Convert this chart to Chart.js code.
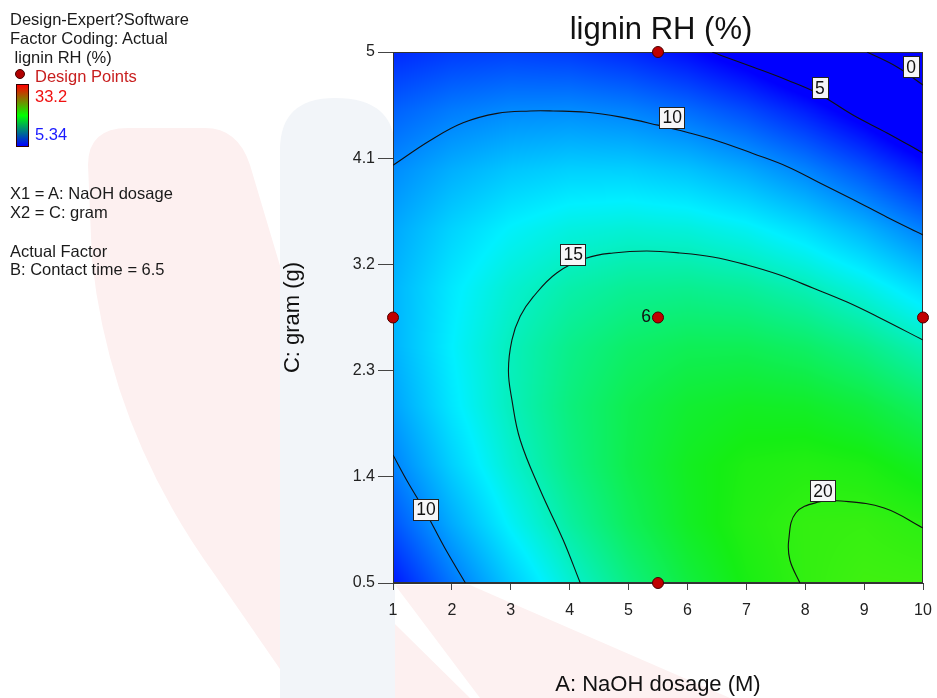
<!DOCTYPE html>
<html>
<head>
<meta charset="utf-8">
<script src="https://cdn.jsdelivr.net/npm/chart.js@4.4.1/dist/chart.umd.min.js"></script>
<style>
html, body { margin: 0; padding: 0; background: #fff; }
#wrap { position: relative; width: 937px; height: 698px; overflow: hidden; font-family: "Liberation Sans", Arial, sans-serif; }
#bg { position: absolute; left: 0; top: 0; }
#c { position: absolute; left: 0; top: 0; }
.t { position: absolute; white-space: pre; font-size: 16.5px; line-height: 17px; color: #1a1a1a; }
#bar { position: absolute; left: 16px; top: 84px; width: 11px; height: 61px; border: 1px solid #300; background: linear-gradient(to bottom, #f00, #0f0, #00f); }
#dot { position: absolute; left: 15px; top: 69px; width: 8px; height: 8px; border-radius: 50%; background: #b00000; border: 1px solid #400; }
</style>
</head>
<body>
<div id="wrap">
  <svg id="bg" width="937" height="698">
    <path d="M88 165 Q88 128 128 128 L205 128 Q238 128 250 165 L320 400 L330 560 L470 698 L300 698 L215 575 Q110 430 92 260 Z" fill="#fdf0f0"/>
    <path d="M280 150 Q280 98 335 98 Q395 98 395 150 L395 698 L280 698 Z" fill="#f2f5f9"/>
    <path d="M395 585 L470 585 L730 698 L480 698 Z" fill="#fdf1f1"/>
  </svg>
  <canvas id="c" width="937" height="698"></canvas>
  <div class="t" style="left:10px;top:11px">Design-Expert?Software</div>
  <div class="t" style="left:10px;top:30px">Factor Coding: Actual</div>
  <div class="t" style="left:10px;top:49px"> lignin RH (%)</div>
  <div id="dot"></div>
  <div class="t" style="left:35px;top:68px;color:#c81e1e">Design Points</div>
  <div id="bar"></div>
  <div class="t" style="left:35px;top:88px;color:#f01010">33.2</div>
  <div class="t" style="left:35px;top:126px;color:#1a1aff">5.34</div>
  <div class="t" style="left:10px;top:185px">X1 = A: NaOH dosage</div>
  <div class="t" style="left:10px;top:204px">X2 = C: gram</div>
  <div class="t" style="left:10px;top:243px">Actual Factor</div>
  <div class="t" style="left:10px;top:261px">B: Contact time = 6.5</div>
</div>
<script>
// axes
const xTicks = [1, 2, 3, 4, 5, 6, 7, 8, 9, 10];
const yTicks = [0.5, 1.4, 2.3, 3.2, 4.1, 5];

// response surface (rows = gram, cols = NaOH dosage)
const gridX = [1, 2, 3, 4, 5, 6, 7, 8, 9, 10];
const gridY = [0.5, 1, 1.5, 2, 2.5, 3, 3.5, 4, 4.5, 5];
const gridZ = [
  [6.14, 9.37, 12.19, 14.61, 16.61, 18.21, 19.40, 20.17, 20.54, 20.50],
  [8.21, 11.15, 13.68, 15.81, 17.52, 18.82, 19.72, 20.20, 20.28, 19.95],
  [9.78, 12.43, 14.67, 16.50, 17.92, 18.93, 19.54, 19.73, 19.52, 18.89],
  [10.85, 13.21, 15.15, 16.69, 17.82, 18.54, 18.86, 18.76, 18.25, 17.34],
  [11.42, 13.48, 15.14, 16.38, 17.22, 17.65, 17.67, 17.28, 16.48, 15.28],
  [11.48, 13.25, 14.62, 15.57, 16.12, 16.25, 15.98, 15.30, 14.21, 12.72],
  [11.04, 12.52, 13.59, 14.26, 14.51, 14.36, 13.80, 12.82, 11.44, 9.65],
  [10.10, 11.28, 12.07, 12.44, 12.40, 11.96, 11.10, 9.84, 8.16, 6.08],
  [8.65, 9.55, 10.04, 10.12, 9.79, 9.05, 7.91, 6.35, 4.39, 2.01],
  [6.70, 7.31, 7.51, 7.30, 6.68, 5.65, 4.21, 2.36, 0.11, -2.56]
];
const zStops = [5.34, 13.5, 19.27, 26.24, 33.2];
const zColors = [[0, 0, 255], [0, 240, 255], [20, 238, 20], [255, 255, 0], [255, 0, 0]];

// contour lines
const contour0 = [[9.05, 5], [9.56, 4.873], [10, 4.72]];
const contour5 = [[6.42, 5], [6.55, 4.975], [7.11, 4.873], [7.69, 4.763], [8.20, 4.653], [8.81, 4.466], [9.39, 4.314], [10, 4.144]];
const contour10Top = [[1, 4.04], [1.63, 4.25], [2.19, 4.40], [2.77, 4.48], [3.33, 4.50], [3.72, 4.50], [4.29, 4.49], [4.85, 4.45], [5.50, 4.38], [5.99, 4.32], [6.55, 4.24], [7.11, 4.14], [7.69, 4.03], [8.25, 3.89], [8.81, 3.75], [9.39, 3.60], [10, 3.45]];
const contour10Low = [[1, 1.585], [1.25, 1.356], [1.55, 1.104], [1.88, 0.796], [2.23, 0.5]];
const contour15 = [[4.18, 0.5], [3.89, 0.864], [3.50, 1.288], [3.16, 1.712], [3.02, 2.05], [2.96, 2.30], [3.02, 2.56], [3.16, 2.76], [3.38, 2.924], [3.78, 3.127], [4.29, 3.254], [4.74, 3.297], [5.31, 3.313], [5.87, 3.297], [6.43, 3.263], [7.01, 3.195], [7.57, 3.110], [8.13, 3.0], [8.71, 2.881], [9.27, 2.746], [10, 2.559]];
const contour20 = [[7.91, 0.5], [7.74, 0.695], [7.72, 0.864], [7.84, 1.093], [8.23, 1.186], [8.61, 1.195], [9.34, 1.135], [10, 0.966]];

const labelX = [9.80, 8.25, 5.74, 4.06, 1.56, 8.30];
const labelY = [4.873, 4.695, 4.449, 3.288, 1.127, 1.28];
const labelText = ['0', '5', '10', '15', '10', '20'];

// design points
const designX = [5.5, 1, 5.5, 10, 5.5];
const designY = [5, 2.75, 2.75, 2.75, 0.5];
const designCount = ['', '', '6', '', ''];

const FONT = '"Liberation Sans", Arial, sans-serif';

function sampleGrid(xv, yv) {
  let i = 0, j = 0;
  while (i < gridX.length - 2 && xv > gridX[i + 1]) i++;
  while (j < gridY.length - 2 && yv > gridY[j + 1]) j++;
  const tx = Math.min(1, Math.max(0, (xv - gridX[i]) / (gridX[i + 1] - gridX[i])));
  const ty = Math.min(1, Math.max(0, (yv - gridY[j]) / (gridY[j + 1] - gridY[j])));
  const a = gridZ[j][i], b = gridZ[j][i + 1], c = gridZ[j + 1][i], d = gridZ[j + 1][i + 1];
  return (a * (1 - tx) + b * tx) * (1 - ty) + (c * (1 - tx) + d * tx) * ty;
}

function colorFor(z) {
  if (z <= zStops[0]) return zColors[0];
  for (let k = 1; k < zStops.length; k++) {
    if (z <= zStops[k]) {
      const t = (z - zStops[k - 1]) / (zStops[k] - zStops[k - 1]);
      const c0 = zColors[k - 1], c1 = zColors[k];
      return [c0[0] + (c1[0] - c0[0]) * t, c0[1] + (c1[1] - c0[1]) * t, c0[2] + (c1[2] - c0[2]) * t];
    }
  }
  return zColors[zColors.length - 1];
}

const surface = {
  id: 'surface',
  beforeDatasetsDraw(chart) {
    const { ctx, chartArea: a, scales: { x, y } } = chart;
    const w = Math.round(a.right - a.left), h = Math.round(a.bottom - a.top);
    const img = ctx.createImageData(w, h);
    for (let j = 0; j < h; j++) {
      const yv = y.getValueForPixel(a.top + j + 0.5);
      for (let i = 0; i < w; i++) {
        const c = colorFor(sampleGrid(x.getValueForPixel(a.left + i + 0.5), yv));
        const k = (j * w + i) * 4;
        img.data[k] = c[0]; img.data[k + 1] = c[1]; img.data[k + 2] = c[2]; img.data[k + 3] = 255;
      }
    }
    ctx.putImageData(img, Math.round(a.left), Math.round(a.top));
    ctx.save();
    ctx.strokeStyle = '#333';
    ctx.lineWidth = 1;
    ctx.strokeRect(Math.round(a.left) + 0.5, Math.round(a.top) + 0.5, w - 1, h - 1);
    ctx.restore();
  },
  afterDatasetsDraw(chart) {
    const { ctx, scales: { x, y } } = chart;
    ctx.save();
    ctx.font = '17.5px ' + FONT;
    ctx.textAlign = 'center';
    ctx.textBaseline = 'middle';
    labelText.forEach((t, i) => {
      const px = x.getPixelForValue(labelX[i]), py = y.getPixelForValue(labelY[i]);
      const tw = ctx.measureText(t).width;
      const bx = Math.round(px - tw / 2 - 3) + 0.5, by = Math.round(py - 10.5) + 0.5, bw = Math.round(tw + 6);
      ctx.fillStyle = '#f6f6f8';
      ctx.fillRect(bx, by, bw, 21);
      ctx.strokeStyle = '#222';
      ctx.strokeRect(bx, by, bw, 21);
      ctx.fillStyle = '#111';
      ctx.fillText(t, px, py + 1);
    });
    ctx.textAlign = 'right';
    designCount.forEach((t, i) => {
      if (!t) return;
      ctx.fillText(t, x.getPixelForValue(designX[i]) - 7, y.getPixelForValue(designY[i]));
    });
    ctx.restore();
  },
  afterDraw(chart) {
    const { ctx, chartArea: a } = chart;
    ctx.save();
    ctx.font = '31px ' + FONT;
    ctx.fillStyle = '#111';
    ctx.textAlign = 'center';
    ctx.textBaseline = 'middle';
    ctx.fillText('lignin RH (%)', (a.left + a.right) / 2 + 3, 30);
    ctx.restore();
  }
};

const toXY = arr => arr.map(p => ({ x: p[0], y: p[1] }));
const line = arr => ({ data: toXY(arr), showLine: true, borderColor: '#111', borderWidth: 1.1, pointRadius: 0, tension: 0.4, fill: false });

new Chart(document.getElementById('c'), {
  type: 'scatter',
  data: {
    datasets: [
      {
        data: designX.map((v, i) => ({ x: v, y: designY[i] })),
        pointRadius: 5.5, pointBackgroundColor: '#c00000', pointBorderColor: '#4a0000', pointBorderWidth: 1, clip: false
      },
      line(contour0), line(contour5), line(contour10Top), line(contour10Low), line(contour15), line(contour20)
    ]
  },
  options: {
    responsive: false,
    animation: false,
    devicePixelRatio: 1,
    layout: { padding: { left: 268, right: 14, top: 52, bottom: 0 } },
    plugins: { legend: { display: false }, tooltip: { enabled: false } },
    scales: {
      x: {
        type: 'linear', min: 1, max: 10,
        afterBuildTicks: s => { s.ticks = xTicks.map(v => ({ value: v })); },
        afterFit: s => { s.height = 115; s.paddingLeft = 0; s.paddingRight = 0; },
        ticks: { font: { size: 16, family: FONT }, color: '#222', padding: 11, maxRotation: 0, autoSkip: false },
        grid: { drawOnChartArea: false, tickLength: 7, color: '#444' },
        border: { color: '#333' },
        title: { display: true, text: 'A: NaOH dosage (M)', font: { size: 22, family: FONT }, color: '#111', padding: { top: 0, bottom: 0 } }
      },
      y: {
        type: 'linear', min: 0.5, max: 5,
        afterBuildTicks: s => { s.ticks = yTicks.map(v => ({ value: v })); },
        afterFit: s => { s.width = 125; s.paddingTop = 0; s.paddingBottom = 0; },
        ticks: { font: { size: 16, family: FONT }, color: '#222', padding: 3, autoSkip: false, callback: v => String(v) },
        grid: { drawOnChartArea: false, tickLength: 15, color: '#444' },
        border: { color: '#333' },
        title: { display: true, text: 'C: gram (g)', font: { size: 22, family: FONT }, color: '#111', padding: { top: 12, bottom: 0 } }
      }
    }
  },
  plugins: [surface]
});
</script>
</body>
</html>
